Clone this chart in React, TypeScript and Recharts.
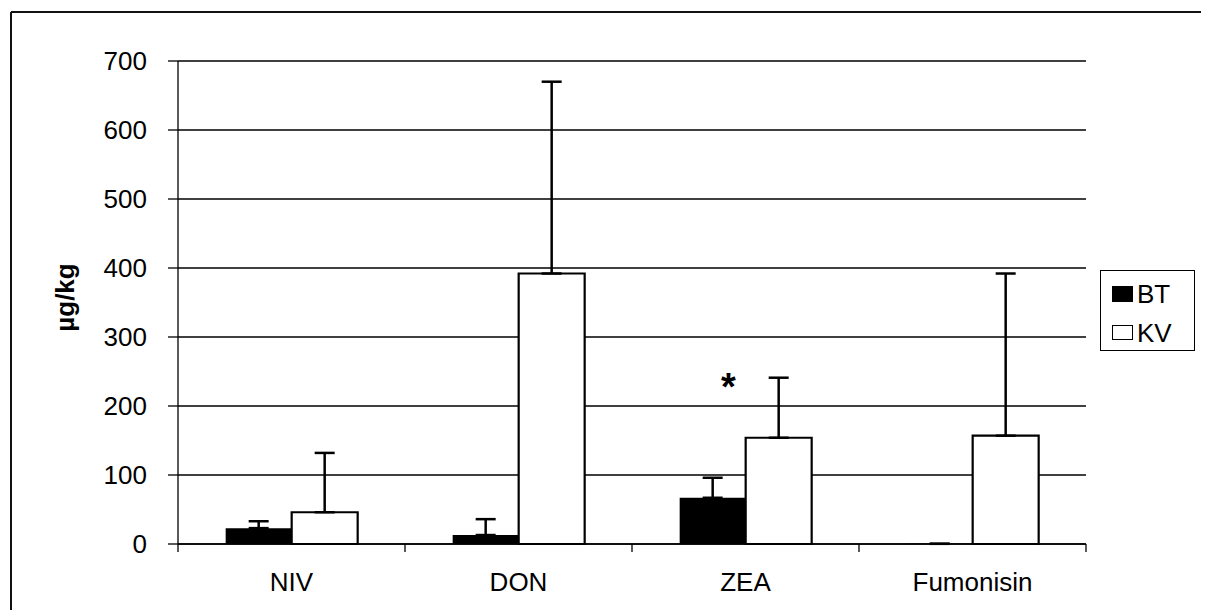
import { BarChart, Bar, XAxis, YAxis, CartesianGrid, ErrorBar, Legend, LabelList } from "recharts";

const categories = ["NIV", "DON", "ZEA", "Fumonisin"];
const btValues = [23, 13, 67, 0.3];
const btErrors = [10, 23, 29, 0];
const kvValues = [46, 392, 154, 157];
const kvErrors = [86, 278, 87, 235];
const significance = ["", "", "*", ""];
const yTicks = [0, 100, 200, 300, 400, 500, 600, 700];

const FONT = '"Liberation Sans", Arial, sans-serif';

const data = categories.map((name, i) => ({
  name,
  BT: btValues[i],
  KV: kvValues[i],
  btErr: [0, btErrors[i]],
  kvErr: [0, kvErrors[i]],
  sig: significance[i],
}));

// x ticks sit on the category boundaries, label in the middle
function CategoryTick(props: any) {
  const { x, y, payload, index, visibleTicksCount } = props;
  const half = payload && payload.offset ? payload.offset : 113.5;
  const last = index === visibleTicksCount - 1;
  return (
    <g>
      <line x1={x - half} x2={x - half} y1={y - 8} y2={y} stroke="#000" strokeWidth={1.3} />
      {last && <line x1={x + half} x2={x + half} y1={y - 8} y2={y} stroke="#000" strokeWidth={1.3} />}
      <text x={x} y={y} dy={39} textAnchor="middle" fontSize={26} fontFamily={FONT} fill="#000">
        {payload.value}
      </text>
    </g>
  );
}

function YLabel(props: any) {
  const { viewBox } = props;
  const cx = viewBox.x + 74;
  const cy = viewBox.y + viewBox.height / 2 - 5;
  return (
    <text
      x={cx}
      y={cy}
      transform={`rotate(-90, ${cx}, ${cy})`}
      textAnchor="middle"
      fontSize={26}
      fontWeight="bold"
      fontFamily={FONT}
      fill="#000"
    >
      µg/kg
    </text>
  );
}

function SigLabel(props: any) {
  const { x, y, width, value } = props;
  if (!value) return null;
  return (
    <text x={x - width * 0.26} y={y - 38} textAnchor="middle" fontSize={38} fontWeight="bold" fontFamily={FONT} fill="#000">
      {value}
    </text>
  );
}

function LegendBox() {
  const row = { display: "flex", alignItems: "center", height: 39, paddingLeft: 11 } as const;
  return (
    <div
      style={{
        border: "1.5px solid #000",
        width: 95,
        height: 81,
        boxSizing: "border-box",
        fontFamily: FONT,
        fontSize: 26,
        lineHeight: 1,
        paddingTop: 3,
        background: "#fff",
      }}
    >
      <div style={row}>
        <span style={{ display: "inline-block", width: 21, height: 16, background: "#000", marginRight: 4 }} />
        BT
      </div>
      <div style={row}>
        <span
          style={{
            display: "inline-block",
            width: 21,
            height: 15,
            background: "#fff",
            border: "1.5px solid #000",
            boxSizing: "border-box",
            marginRight: 4,
          }}
        />
        KV
      </div>
    </div>
  );
}

export default function App() {
  return (
    <div style={{ position: "absolute", left: 0, top: 0, width: 1205, height: 610, background: "#fff", overflow: "hidden" }}>
      <svg width={1205} height={610} style={{ position: "absolute", left: 0, top: 0 }}>
        <line x1={11} y1={12} x2={1201} y2={12} stroke="#111" strokeWidth={2} />
        <line x1={11} y1={12} x2={11} y2={610} stroke="#111" strokeWidth={2} />
      </svg>
      <BarChart
        width={1205}
        height={610}
        data={data}
        margin={{ top: 61, right: 119, bottom: 0, left: 0 }}
        barCategoryGap="21%"
        barGap={0}
      >
        <CartesianGrid horizontal vertical={false} stroke="#000" strokeWidth={1.3} />
        <XAxis
          dataKey="name"
          height={66}
          tickSize={8}
          tickMargin={0}
          tickLine={false}
          axisLine={{ stroke: "#000", strokeWidth: 1.3 }}
          tick={<CategoryTick />}
          interval={0}
        />
        <YAxis
          width={178}
          domain={[0, 700]}
          ticks={yTicks}
          tickSize={10}
          tickMargin={21}
          axisLine={{ stroke: "#000", strokeWidth: 1.3 }}
          tickLine={{ stroke: "#000", strokeWidth: 1.3 }}
          tick={{ fontSize: 26, fontFamily: FONT, fill: "#000" }}
          label={<YLabel />}
          interval={0}
        />
        <YAxis
          yAxisId="right"
          orientation="right"
          width={0}
          tick={false}
          tickLine={false}
          axisLine={{ stroke: "#222", strokeWidth: 2 }}
        />
        <Legend
          layout="vertical"
          align="center"
          verticalAlign="middle"
          content={<LegendBox />}
          wrapperStyle={{ left: 1100, top: 270, width: 95, height: 81, right: "auto", bottom: "auto" }}
        />
        <Bar dataKey="BT" fill="#000" isAnimationActive={false}>
          <ErrorBar dataKey="btErr" width={10} stroke="#000" strokeWidth={2.5} isAnimationActive={false} />
        </Bar>
        <Bar dataKey="KV" fill="#fff" stroke="#000" strokeWidth={2.2} isAnimationActive={false}>
          <ErrorBar dataKey="kvErr" width={10} stroke="#000" strokeWidth={2.5} isAnimationActive={false} />
          <LabelList dataKey="sig" content={<SigLabel />} />
        </Bar>
      </BarChart>
    </div>
  );
}
